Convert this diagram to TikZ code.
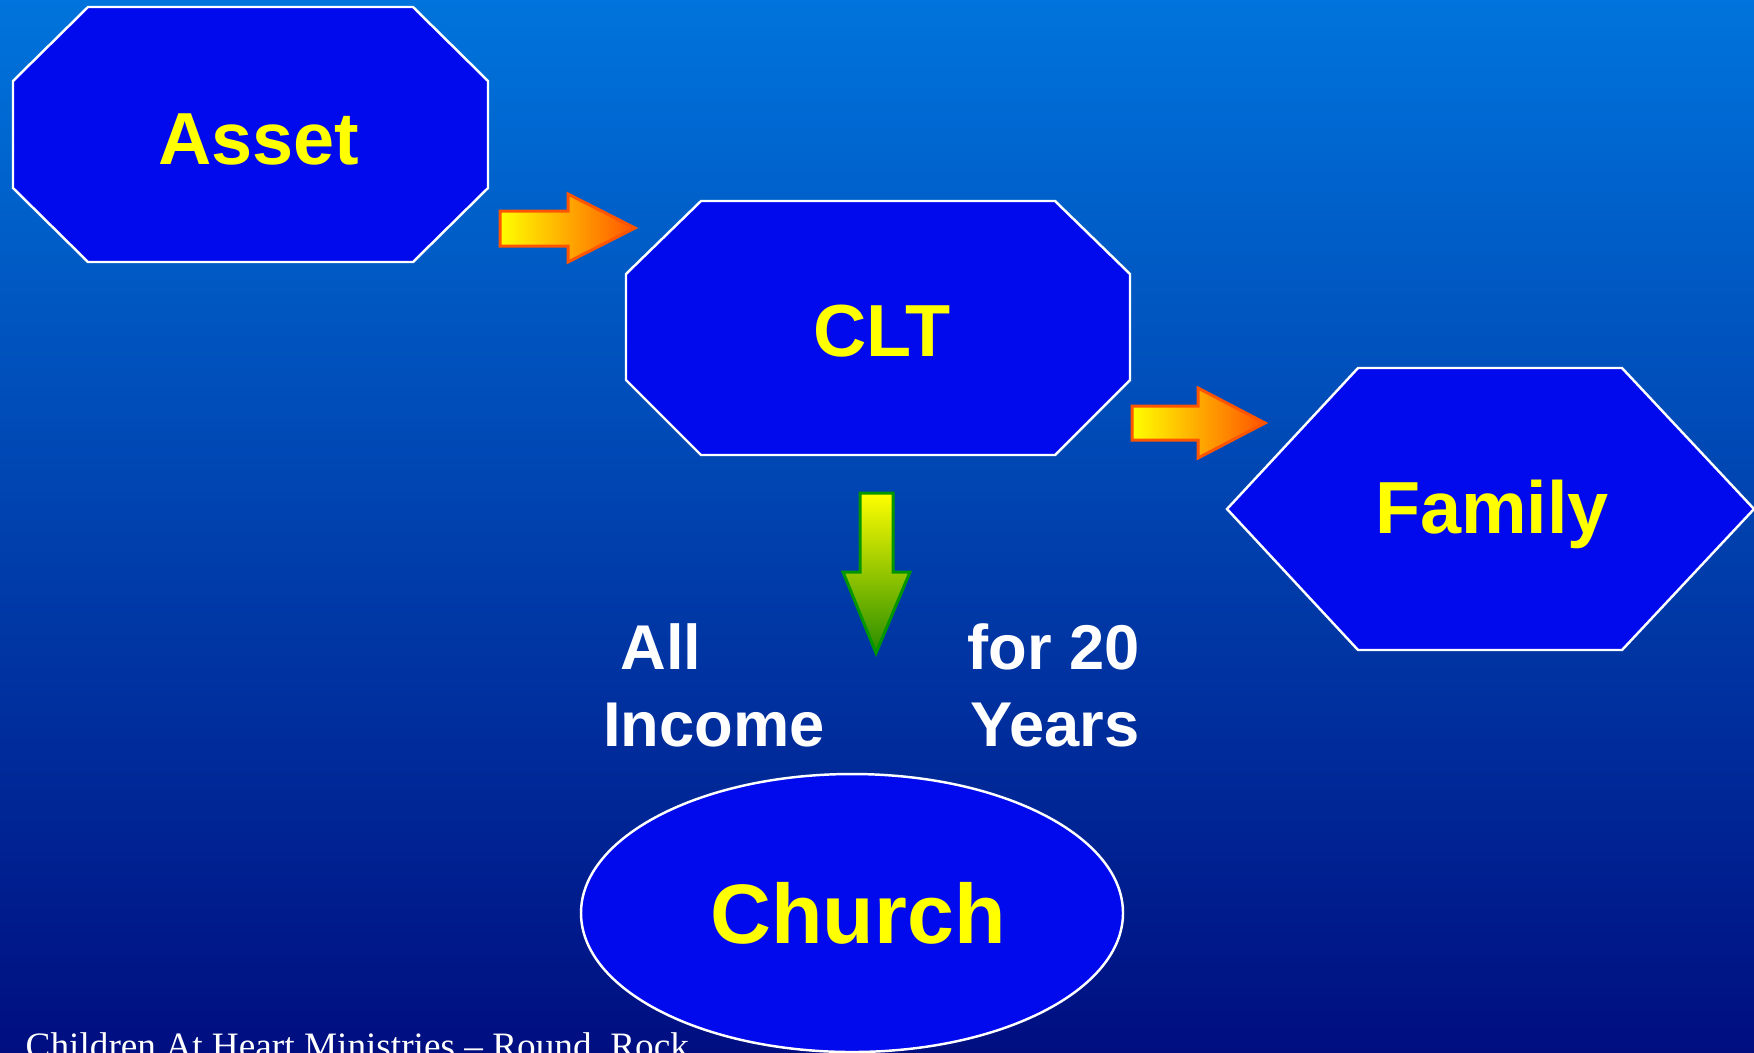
\documentclass[tikz,border=0pt]{standalone}
\usepackage{fontspec}
\setmainfont{Liberation Sans}
\newfontfamily\footfont{Liberation Serif}

\definecolor{bgtop}{RGB}{0,116,220}
\definecolor{bgmid}{RGB}{0,72,166}
\definecolor{bgbottom}{RGB}{0,14,128}
\definecolor{shapeblue}{RGB}{0,10,236}
\definecolor{textyellow}{RGB}{255,255,0}
\definecolor{arroworange}{RGB}{255,84,0}
\definecolor{arrowgreen}{RGB}{40,140,0}
\definecolor{edgegreen}{RGB}{0,150,0}

\tikzset{
  boxfill/.style={fill=shapeblue, draw=white, line width=0.7pt},
  boxtext/.style={text=textyellow, anchor=base, inner sep=0pt, font=\bfseries\fontsize{21}{25}\selectfont},
  notetext/.style={text=white, anchor=base, inner sep=0pt, font=\bfseries\fontsize{18}{22}\selectfont},
  orangearrow/.style={left color=textyellow, right color=arroworange, draw=arroworange, line width=0.85pt},
  greenarrow/.style={top color=textyellow, bottom color=arrowgreen, draw=edgegreen, line width=0.85pt}
}

\begin{document}
\begin{tikzpicture}[x=0.1mm,y=-0.1mm]
    % Background
    \shade[top color=bgtop, middle color=bgmid, bottom color=bgbottom] (0,0) rectangle (1754,1052);
    \useasboundingbox (0,0) rectangle (1754,1052);

    % Asset octagon
    \draw[boxfill] (88,7) -- (413,7) -- (488,81) -- (488,188) -- (413,262) -- (88,262) -- (13,188) -- (13,81) -- cycle;
    \node[boxtext] (asset) at (259,164) {Asset};

    % CLT octagon
    \draw[boxfill] (701,201) -- (1055,201) -- (1130,274) -- (1130,380) -- (1055,455) -- (701,455) -- (626,380) -- (626,274) -- cycle;
    \node[boxtext] (clt) at (882,356) {CLT};

    % Family hexagon
    \draw[boxfill] (1227,509) -- (1358,368) -- (1622,368) -- (1754,509) -- (1622,650) -- (1358,650) -- cycle;
    \node[boxtext] (family) at (1492,533) {Family};

    % Church ellipse
    \draw[boxfill] (852,913) ellipse [x radius=271, y radius=139];
    \node[boxtext, font=\bfseries\fontsize{24}{28}\selectfont] (church) at (858,943) {Church};

    % Block arrows
    \shadedraw[orangearrow] (500,211) -- (568,211) -- (568,194) -- (635,228) -- (568,262) -- (568,246) -- (500,246) -- cycle;
    \shadedraw[orangearrow] (1132,406) -- (1198,406) -- (1198,388) -- (1265,423) -- (1198,458) -- (1198,440) -- (1132,440) -- cycle;
    \shadedraw[greenarrow] (860,493) -- (893,493) -- (893,572) -- (910,572) -- (876,653) -- (843,572) -- (860,572) -- cycle;

    % Labels beside the down arrow
    \node[notetext] (all) at (661,669) {All};
    \node[notetext] (income) at (714,746) {Income};
    \node[notetext] (for20) at (1054,669) {for 20};
    \node[notetext] (years) at (1055,746) {Years};

    % Footer
    \node[anchor=base west, inner sep=0pt, text=white, font=\footfont\fontsize{10.6}{13}\selectfont] (footer) at (25,1058) {Children At Heart Ministries – Round\ \ Rock};
\end{tikzpicture}
\end{document}
